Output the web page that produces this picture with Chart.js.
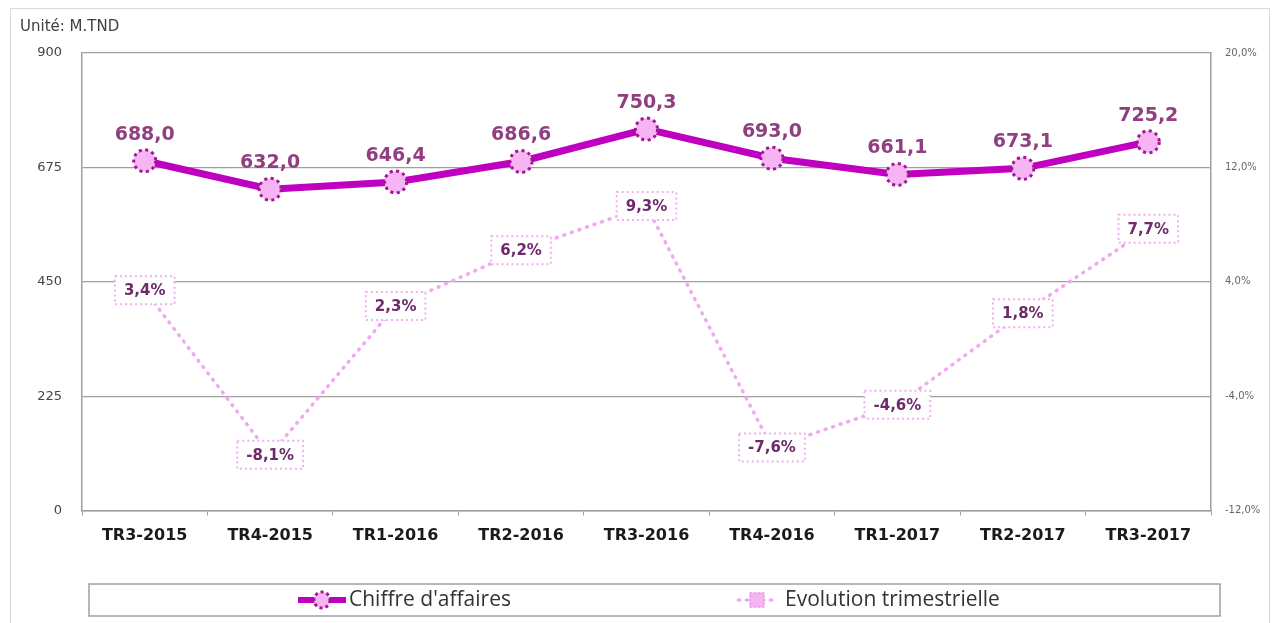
<!DOCTYPE html>
<html>
<head>
<meta charset="utf-8">
<script src="https://cdn.jsdelivr.net/npm/chart.js@4/dist/chart.umd.min.js"></script>
<style>
html,body{margin:0;padding:0;background:#fff;}
#wrap{position:absolute;left:0;top:0;width:1273px;height:623px;}
</style>
</head>
<body>
<div id="wrap"><canvas id="c" width="1273" height="623"></canvas></div>
<script>
const categories = ['TR3-2015','TR4-2015','TR1-2016','TR2-2016','TR3-2016','TR4-2016','TR1-2017','TR2-2017','TR3-2017'];
const chiffreAffaires = [688.0, 632.0, 646.4, 686.6, 750.3, 693.0, 661.1, 673.1, 725.2];
const evolutionTrim = [3.4, -8.1, 2.3, 6.2, 9.3, -7.6, -4.6, 1.8, 7.7];
const seriesNames = ["Chiffre d'affaires", 'Evolution trimestrielle'];
const unitLabel = 'Unité: M.TND';
const leftTicks = {min: 0, max: 900, step: 225};
const rightTicks = {min: -12, max: 20, step: 8};

const fmt1 = v => v.toFixed(1).replace('.', ',');

const PLOT = {left: 82, right: 1211, top: 53, bottom: 510.5};

const customPlugin = {
  id: 'custom',
  beforeDraw(chart) {
    const ctx = chart.ctx;
    ctx.save();
    ctx.fillStyle = '#fff';
    ctx.fillRect(0, 0, chart.width, chart.height);
    ctx.strokeStyle = '#d9d9d9';
    ctx.lineWidth = 1;
    ctx.strokeRect(10.5, 8.5, 1259, 625);
    ctx.fillStyle = '#404040';
    ctx.font = '15px "DejaVu Sans"';
    ctx.textBaseline = 'middle';
    ctx.textAlign = 'left';
    ctx.fillText(unitLabel, 20, 27);
    ctx.restore();
  },
  afterDatasetsDraw(chart) {
    const ctx = chart.ctx;
    // evolution label boxes
    const m1 = chart.getDatasetMeta(1);
    m1.data.forEach((p, i) => {
      const txt = fmt1(evolutionTrim[i]) + '%';
      ctx.save();
      ctx.font = 'bold 15px "DejaVu Sans"';
      const w = ctx.measureText(txt).width + 18;
      const h = 28;
      ctx.fillStyle = '#fff';
      ctx.fillRect(p.x - w / 2, p.y - h / 2, w, h);
      ctx.setLineDash([2, 3]);
      ctx.lineWidth = 2;
      ctx.strokeStyle = '#eeb0ee';
      ctx.strokeRect(p.x - w / 2, p.y - h / 2, w, h);
      ctx.setLineDash([]);
      ctx.fillStyle = '#6e2a6a';
      ctx.textAlign = 'center';
      ctx.textBaseline = 'middle';
      ctx.fillText(txt, p.x, p.y + 1);
      ctx.restore();
    });
    // main markers & labels
    const m0 = chart.getDatasetMeta(0);
    m0.data.forEach((p, i) => {
      ctx.save();
      ctx.beginPath();
      ctx.arc(p.x, p.y, 11, 0, Math.PI * 2);
      ctx.fillStyle = '#f7b4f5';
      ctx.fill();
      ctx.setLineDash([3, 3.5]);
      ctx.lineWidth = 3;
      ctx.strokeStyle = '#a0188f';
      ctx.stroke();
      ctx.setLineDash([]);
      ctx.fillStyle = '#904080';
      ctx.font = 'bold 19px "DejaVu Sans"';
      ctx.textAlign = 'center';
      ctx.textBaseline = 'middle';
      ctx.fillText(fmt1(chiffreAffaires[i]), p.x, p.y - 26);
      ctx.restore();
    });
  },
  afterDraw(chart) {
    const ctx = chart.ctx;
    ctx.save();
    // legend box
    ctx.strokeStyle = '#a0a0a0';
    ctx.lineWidth = 1.5;
    ctx.strokeRect(89, 584, 1131, 32);
    const ly = 600;
    // series 1 symbol
    ctx.beginPath();
    ctx.moveTo(298, ly); ctx.lineTo(346, ly);
    ctx.strokeStyle = '#c000c0';
    ctx.lineWidth = 6;
    ctx.stroke();
    ctx.beginPath();
    ctx.arc(322, ly, 8, 0, Math.PI * 2);
    ctx.fillStyle = '#f7b4f5';
    ctx.fill();
    ctx.setLineDash([3, 3]);
    ctx.lineWidth = 3;
    ctx.strokeStyle = '#a0188f';
    ctx.stroke();
    ctx.setLineDash([]);
    ctx.fillStyle = '#333';
    ctx.font = '21px "Open Sans"';
    ctx.textAlign = 'left';
    ctx.textBaseline = 'middle';
    ctx.fillText(seriesNames[0], 349, ly);
    // series 2 symbol
    ctx.beginPath();
    ctx.moveTo(738, ly); ctx.lineTo(778, ly);
    ctx.setLineDash([2, 6]);
    ctx.lineCap = 'round';
    ctx.strokeStyle = '#f0a8f0';
    ctx.lineWidth = 3;
    ctx.stroke();
    ctx.setLineDash([]);
    ctx.fillStyle = '#f3b6f3';
    ctx.fillRect(750, ly - 7, 14, 14);
    ctx.setLineDash([2, 2]);
    ctx.lineWidth = 1.5;
    ctx.strokeStyle = '#e9a0e9';
    ctx.strokeRect(750, ly - 7, 14, 14);
    ctx.setLineDash([]);
    ctx.fillStyle = '#333';
    ctx.fillText(seriesNames[1], 785, ly);
    ctx.restore();
  }
};

new Chart(document.getElementById('c'), {
  type: 'line',
  data: {
    labels: categories,
    datasets: [
      {
        label: seriesNames[0],
        data: chiffreAffaires,
        yAxisID: 'y',
        borderColor: '#c000c0',
        borderWidth: 7,
        pointRadius: 0,
        tension: 0,
        order: 0
      },
      {
        label: seriesNames[1],
        data: evolutionTrim,
        yAxisID: 'y1',
        borderColor: '#f0a8f0',
        borderWidth: 3.5,
        borderDash: [1, 7],
        borderCapStyle: 'round',
        pointRadius: 0,
        tension: 0,
        order: 1
      }
    ]
  },
  options: {
    responsive: false,
    animation: false,
    devicePixelRatio: 1,
    layout: {padding: {left: 0, right: 0, top: PLOT.top, bottom: 623 - PLOT.bottom - 40}},
    plugins: {legend: {display: false}, tooltip: {enabled: false}, title: {display: false}},
    scales: {
      x: {
        offset: true,
        grid: {offset: true, drawOnChartArea: false, drawTicks: true, tickLength: 5, color: '#a0a0a0'},
        border: {color: '#a0a0a0', width: 1.5},
        ticks: {color: '#1a1a1a', font: {family: 'DejaVu Sans', size: 16, weight: 'bold'}, padding: 11, maxRotation: 0, autoSkip: false},
        afterFit(s) { s.height = 40; }
      },
      y: {
        position: 'left',
        min: leftTicks.min, max: leftTicks.max,
        ticks: {stepSize: leftTicks.step, color: '#444', font: {family: 'DejaVu Sans', size: 13}, padding: 20},
        grid: {color: '#a0a0a0', lineWidth: 1.2, drawTicks: false},
        border: {color: '#a0a0a0', width: 1.5},
        afterFit(s) { s.width = PLOT.left; }
      },
      y1: {
        position: 'right',
        min: rightTicks.min, max: rightTicks.max,
        ticks: {stepSize: rightTicks.step, color: '#666', font: {family: 'DejaVu Sans', size: 10}, padding: 14,
          callback: v => fmt1(v) + '%'},
        grid: {drawOnChartArea: false, drawTicks: false},
        border: {color: '#a0a0a0', width: 1.5},
        afterFit(s) { s.width = 1273 - PLOT.right; }
      }
    }
  },
  plugins: [customPlugin]
});
</script>
</body>
</html>
